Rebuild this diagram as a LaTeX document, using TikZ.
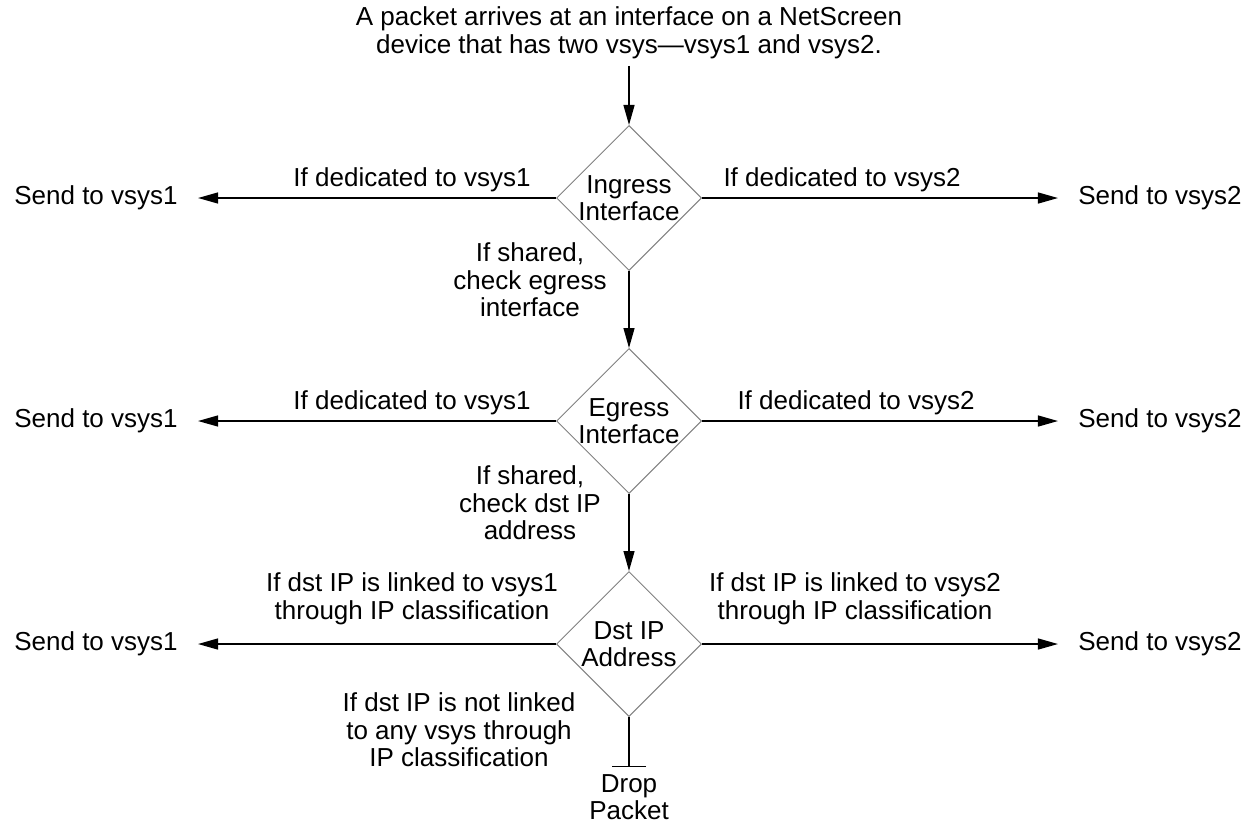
\documentclass[tikz,border=0pt]{standalone}
\usepackage{fontspec}
\setmainfont{Liberation Sans}
\usetikzlibrary{arrows.meta,shapes.geometric}

\begin{document}
\begin{tikzpicture}[x=0.5pt,y=-0.5pt,
  >={Triangle[length=10pt,width=5.5pt]},
  every node/.style={font=\fontsize{13}{13.75}\selectfont,align=center},
  decision/.style={diamond,draw=gray,line width=0.5pt,aspect=1,inner sep=-2pt,minimum size=72.5pt},
  sendto/.style={inner xsep=10pt,inner ysep=3pt},
  flow/.style={line width=0.65pt}]
  \useasboundingbox (0,0) rectangle (1251,825);
  \node (packet) at (629,33) {A packet arrives at an interface on a NetScreen\\device that has two vsys—vsys1 and vsys2.};
  \node[decision] (ingress) at (629,198) {Ingress\\Interface};
  \node[decision] (egress) at (629,421) {Egress\\Interface};
  \node[decision] (dstip) at (629,644) {Dst IP\\Address};
  \node[sendto] (ingress1) at (96,198) {Send to vsys1};
  \node[sendto] (ingress2) at (1160,198) {Send to vsys2};
  \node[sendto] (egress1) at (96,421) {Send to vsys1};
  \node[sendto] (egress2) at (1160,421) {Send to vsys2};
  \node[sendto] (dstip1) at (96,644) {Send to vsys1};
  \node[sendto] (dstip2) at (1160,644) {Send to vsys2};
  \node (drop) at (629,797) {Drop\\Packet};
  \node (ingressl) at (412,180) {If dedicated to vsys1};
  \node (ingressr) at (842,180) {If dedicated to vsys2};
  \node (ingressd) at (530,280) {If shared,\\check egress\\interface};
  \node (egressl) at (412,403) {If dedicated to vsys1};
  \node (egressr) at (856,403) {If dedicated to vsys2};
  \node (egressd) at (530,503) {If shared,\\check dst IP\\address};
  \node (dstipl) at (412,599) {If dst IP is linked to vsys1\\through IP classification};
  \node (dstipr) at (855,599) {If dst IP is linked to vsys2\\through IP classification};
  \node (dstipd) at (459,730) {If dst IP is not linked\\to any vsys through\\IP classification};
  \draw[flow,->] (packet) -- (ingress);
  \draw[flow,->] (ingress) -- (egress);
  \draw[flow,->] (egress) -- (dstip);
  \draw[flow,->] (ingress) -- (ingress1);
  \draw[flow,->] (ingress) -- (ingress2);
  \draw[flow,->] (egress) -- (egress1);
  \draw[flow,->] (egress) -- (egress2);
  \draw[flow,->] (dstip) -- (dstip1);
  \draw[flow,->] (dstip) -- (dstip2);
  \draw[flow,-{Bar[width=17pt]}] (dstip) -- (drop);
\end{tikzpicture}
\end{document}
